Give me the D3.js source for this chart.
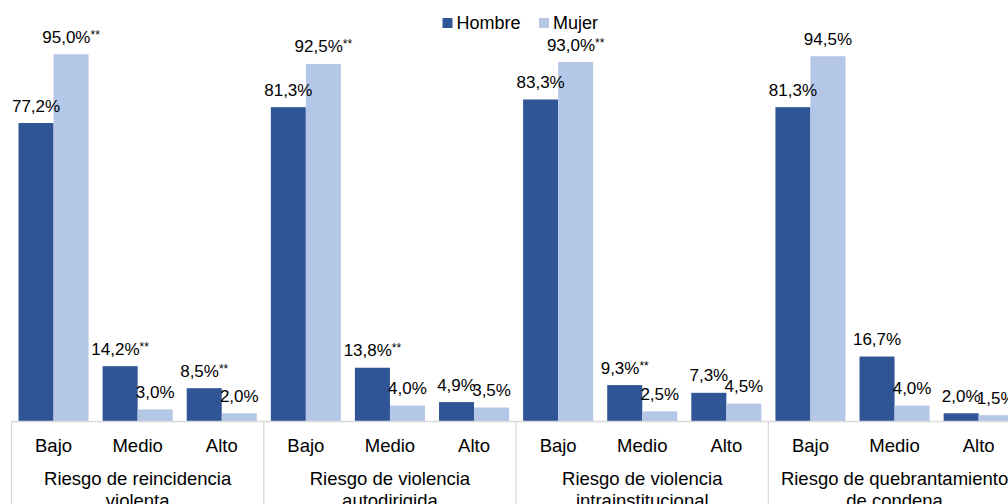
<!DOCTYPE html>
<html><head><meta charset="utf-8">
<script src="https://cdn.jsdelivr.net/npm/d3@7"></script>
<style>body{margin:0;background:#fff}svg{display:block;font-family:"Liberation Sans",Arial,sans-serif}</style>
</head><body>
<svg id="c" width="1008" height="504"></svg>
<script>
const groups = ["Riesgo de reincidencia violenta","Riesgo de violencia autodirigida","Riesgo de violencia intrainstitucional","Riesgo de quebrantamiento de condena"];
const groupLines = [["Riesgo de reincidencia","violenta"],["Riesgo de violencia","autodirigida"],["Riesgo de violencia","intrainstitucional"],["Riesgo de quebrantamiento","de condena"]];
const levels = ["Bajo","Medio","Alto"];
const series = ["Hombre","Mujer"];
const hombre = [77.2,14.2,8.5, 81.3,13.8,4.9, 83.3,9.3,7.3, 81.3,16.7,2.0];
const mujer  = [95.0,3.0,2.0, 92.5,4.0,3.5, 93.0,2.5,4.5, 94.5,4.0,1.5];
const hombreSig = [false,true,true, false,true,false, false,true,false, false,false,false];
const mujerSig  = [true,false,false, true,false,false, true,false,false, false,false,false];
const colors = ["#2F5597","#B4C7E7"];

const svg = d3.select("#c");
const base = 421, left = 11.5, right = 1020.7;
const x0 = d3.scaleBand().domain(groups).range([left,right]).padding(0);
const x1 = d3.scaleBand().domain(levels).range([0,x0.bandwidth()]).paddingInner(0.167).paddingOuter(0.0835);
const x2 = d3.scaleBand().domain(series).range([0,x1.bandwidth()]);
const y = d3.scaleLinear().domain([0,100]).range([base, base-386]);

const data = [];
groups.forEach((g,gi)=>levels.forEach((l,li)=>{
  const i = gi*3+li;
  data.push({g,l,s:"Hombre",v:hombre[i],sig:hombreSig[i]});
  data.push({g,l,s:"Mujer",v:mujer[i],sig:mujerSig[i]});
}));
const bx = d => x0(d.g)+x1(d.l)+x2(d.s);

svg.selectAll("rect.bar").data(data).join("rect").attr("class","bar")
  .attr("x",bx).attr("width",x2.bandwidth())
  .attr("y",d=>y(d.v)).attr("height",d=>base-y(d.v))
  .attr("fill",d=>colors[series.indexOf(d.s)]);

const lab = svg.selectAll("text.val").data(data).join("text").attr("class","val")
  .attr("x",d=>bx(d)+x2.bandwidth()/2).attr("y",d=>y(d.v)-11.5)
  .attr("text-anchor","middle").attr("font-size",17).attr("fill","#000");
lab.append("tspan").text(d=>d3.format(".1f")(d.v).replace(".",",")+"%");
lab.filter(d=>d.sig).append("tspan").attr("font-size",12).attr("dy",-4).text("**");

// axis box lines
const ax = svg.append("g").attr("stroke","#d9d9d9").attr("stroke-width",1.3);
ax.append("line").attr("x1",left).attr("x2",1008).attr("y1",base+0.5).attr("y2",base+0.5);
groups.forEach(g=>{
  ax.append("line").attr("x1",x0(g)).attr("x2",x0(g)).attr("y1",base).attr("y2",504);
});

// level labels
groups.forEach((g,gi)=>{
  levels.forEach(l=>{
    svg.append("text").attr("x",x0(g)+x1(l)+x1.bandwidth()/2).attr("y",451.5)
      .attr("text-anchor","middle").attr("font-size",18.5).text(l);
  });
  groupLines[gi].forEach((t,k)=>{
    svg.append("text").attr("x",x0(g)+x0.bandwidth()/2).attr("y",485+k*22)
      .attr("text-anchor","middle").attr("font-size",18.5).text(t);
  });
});

// legend
const lg = svg.append("g").attr("transform","translate(442.5,29)");
const legOff = [0,96.5];
series.forEach((s,i)=>{
  lg.append("rect").attr("x",legOff[i]).attr("y",-11).attr("width",10).attr("height",10).attr("fill",colors[i]);
  lg.append("text").attr("x",legOff[i]+14).attr("y",0).attr("font-size",18).text(s);
});
</script>
</body></html>
